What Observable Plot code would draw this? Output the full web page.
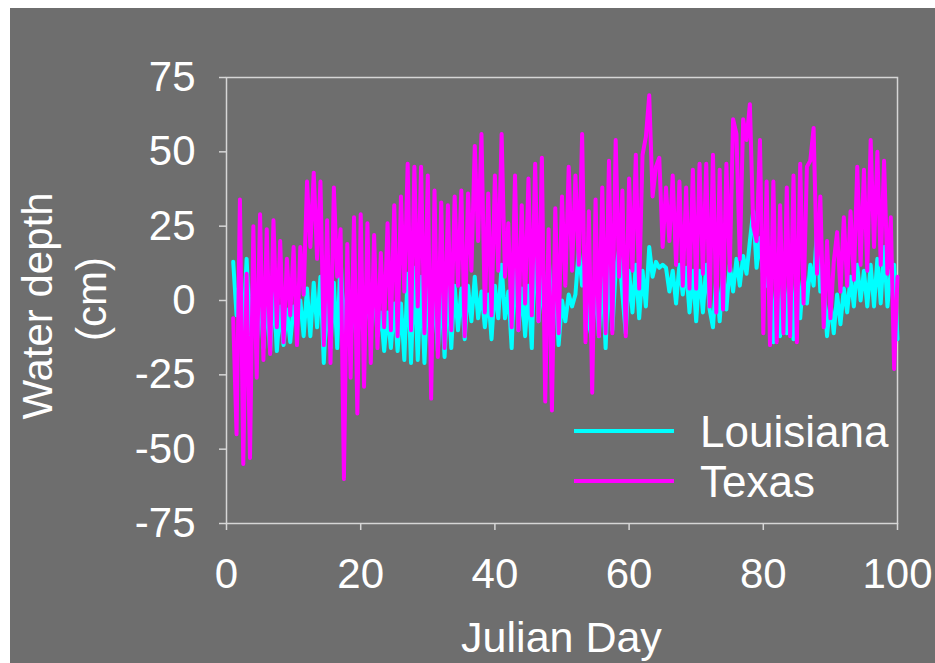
<!DOCTYPE html>
<html>
<head>
<meta charset="utf-8">
<script src="https://cdn.jsdelivr.net/npm/d3@7"></script>
<script src="https://cdn.jsdelivr.net/npm/@observablehq/plot@0.6"></script>
<style>
  html, body { margin: 0; padding: 0; background: #ffffff; }
  body { width: 935px; height: 663px; position: relative; overflow: hidden; }
  #chart { position: absolute; left: 10px; top: 8px; }
  #chart svg { display: block; }
</style>
</head>
<body>
<div id="chart"></div>
<script>
// Sampling times (Julian day, twice daily from day 1 to day 100)
const julianDay = d3.range(1, 100.001, 0.5);

// Louisiana water depth (cm)
const laDepth = [
  13,-5, 8,-10, 14,-12, 8,-15, 5,-16,
  2,-17, 5,-17, -2,-15, -3,-14, -2,-6,
  0,-12, 4,-12, 6,-9, 8,-21, 2,-16,
  6,-16, 15,-12, 4,-13, 3,-14, 2,-12,
  5,-10, 8,-12, -4,-17, -4,-16, -1,-17,
  -1,-20, 9,-21, 11,-20, 8,-21, 6,-17,
  5,-17, 4,-19, 5,-16, 5,-10, 4,-13,
  5,-7, 8,-6, 3,-9, 2,-13, 5,-6,
  12,-6, 3,-16, 14,-10, 4,-12, 5,-16,
  23,-7, 8,-10, 15,-5, 6,-15, 0,-7,
  2,-2, 2,17, 5,16, -8,-13, 8,-12,
  10,-16, 12,-10, 10,17, 2,-11, 10,-4,
  12,-6, 10,-2, 18,8, 13,11, 12,11,
  3,10, -1,12, 2,11, -4,10, -7,10,
  -4,12, -3,-9, 8,-7, 10,-3, 12,3,
  14,5, 15,9, 20,30, 11,21, 8,5,
  12,-14, 8,-12, 10,-11, 12,-13, 14,-6,
  10,-1, 12,5, 24,3, 6,-12, 0,-11,
  2,-8, 4,-4, 8,-2, 12,0, 10,-2,
  12,-2, 14,-1, 18,-2, 10,12,
  -13
];

// Texas water depth (cm)
const txDepth = [
  -6,-45, 34,-55, 9,-53, 25,-26, 29,-20,
  24,-18, 27,-9, 20,-14, 14,-5, 18,-15,
  18,2, 40,18, 43,14, 40,-15, 27,-21,
  38,8, 24,-60, 19,-26, 28,-38, 29,-29,
  26,-21, 22,-16, 16,-9, 26,-10, 32,-12,
  35,3, 46,-10, 45,-2, 45,-11, 42,-33,
  37,-19, 33,-16, 32,-10, 35,5, 37,-12,
  36,10, 52,20, 56,-4, 36,-5, 42,10,
  56,8, 26,-9, 42,-10, 32,-1, 41,-5,
  46,-7, 48,-34, 24,-37, 31,-11, 35,5,
  45,10, 42,12, 56,-14, 30,-31, 34,-12,
  38,-11, 47,-11, 54,8, 37,-12, 41,10,
  49,4, 49,55, 69,35, 45,48, 18,38,
  20,42, 12,40, 5,38, 4,44, 4,46,
  9,46, -2,49, -4,44, -3,46, 10,61,
  56,14, 61,54, 66,25, 20,54, -11,40,
  -15,40, -14,32, -11,38, -12,42, -14,46,
  -1,45, 47,58, 9,35, -9,20, -6,13,
  23,3, 28,5, 30,7, 45,12, 44,10,
  54,18, 50,12, 47,9, 28,-23,
  8
];

const seriesNames = ["Louisiana", "Texas"];
const seriesColors = ["#00ffff", "#ff00ff"];
const xTicks = [0, 20, 40, 60, 80, 100];
const yTicks = [-75, -50, -25, 0, 25, 50, 75];

const laRows = julianDay.map((d, i) => ({day: d, depth: laDepth[i], state: seriesNames[0]}));
const txRows = julianDay.map((d, i) => ({day: d, depth: txDepth[i], state: seriesNames[1]}));

const axisColor = "#d6d6d6";
const fontFamily = "'Liberation Sans', Arial, Helvetica, sans-serif";

const W = 925, H = 655;
const plot = Plot.plot({
  width: W,
  height: H,
  marginLeft: 216,
  marginRight: 38,
  marginTop: 69,
  marginBottom: 140,
  style: {background: "#6e6e6e", color: "#ffffff", fontFamily, fontSize: "42px"},
  x: {domain: [0, 100]},
  y: {domain: [-75, 75]},
  marks: [
    Plot.frame({stroke: axisColor, strokeWidth: 1.5}),
    Plot.line(laRows, {x: "day", y: "depth", stroke: seriesColors[0], strokeWidth: 4,
      strokeLinejoin: "round", strokeLinecap: "round"}),
    Plot.line(txRows, {x: "day", y: "depth", stroke: seriesColors[1], strokeWidth: 4,
      strokeLinejoin: "round", strokeLinecap: "round"}),
    Plot.axisX({ticks: xTicks, tickSize: 7, tickPadding: 28, tickFormat: d => String(d),
      label: null, stroke: axisColor, fill: "#ffffff", fontSize: 42, strokeWidth: 1.5}),
    Plot.axisY({ticks: yTicks, tickSize: 7, tickPadding: 24, tickFormat: d => String(d),
      label: null, stroke: axisColor, fill: "#ffffff", fontSize: 42, strokeWidth: 1.5})
  ]
});

document.getElementById("chart").appendChild(plot);

const svg = d3.select(plot);
const g = svg.append("g").attr("fill", "#ffffff").attr("font-family", fontFamily);

// Y axis title (two lines, rotated)
g.append("text")
  .attr("transform", "translate(42,298) rotate(-90)")
  .attr("text-anchor", "middle")
  .attr("font-size", 42)
  .text("Water depth");
g.append("text")
  .attr("transform", "translate(96,291) rotate(-90)")
  .attr("text-anchor", "middle")
  .attr("font-size", 42)
  .text("(cm)");

// X axis title
g.append("text")
  .attr("x", 551.5)
  .attr("y", 644)
  .attr("text-anchor", "middle")
  .attr("font-size", 43)
  .text("Julian Day");

// Legend
const legend = svg.append("g").attr("font-family", fontFamily);
seriesNames.forEach((name, i) => {
  const yy = 423 + i * 50;
  legend.append("line")
    .attr("x1", 564).attr("x2", 664)
    .attr("y1", yy).attr("y2", yy)
    .attr("stroke", seriesColors[i])
    .attr("stroke-width", 4);
  legend.append("text")
    .attr("x", 690)
    .attr("y", yy + 16)
    .attr("text-anchor", "start")
    .attr("fill", "#ffffff")
    .attr("font-size", 44)
    .text(name);
});
</script>
</body>
</html>
